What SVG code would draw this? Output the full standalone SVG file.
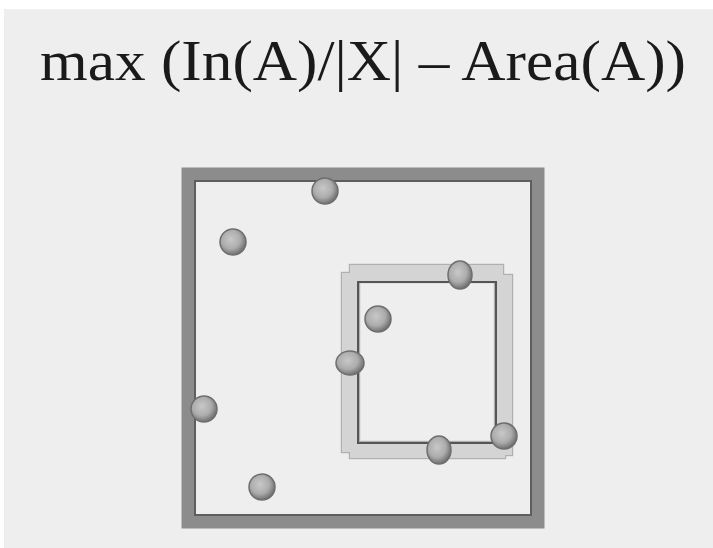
<svg xmlns="http://www.w3.org/2000/svg" width="713" height="548" viewBox="0 0 713 548">
<defs>
<radialGradient id="ballg" cx="0.42" cy="0.4" r="0.6">
<stop offset="0" stop-color="#c8c8c8"/>
<stop offset="0.6" stop-color="#acacac"/>
<stop offset="1" stop-color="#707070"/>
</radialGradient>
<style>
.title{font-family:"Liberation Serif","Times New Roman",serif;font-size:56px;fill:#1a1a1a}
.ball{fill:url(#ballg);stroke:#6e6e6e;stroke-width:1.5}
.outerband{fill:none;stroke:#8c8c8c;stroke-width:13}
.outeredge{fill:none;stroke:#5e5e5e;stroke-width:2}
.barline{fill:#b0b0b0;stroke:#b0b0b0;stroke-width:2.4}
.bar{fill:#d4d4d4}
.inneredge{fill:none;stroke:#555;stroke-width:2}
</style>
</defs>
<rect x="0" y="0" width="713" height="548" fill="#ffffff"/>
<rect x="4" y="9" width="709" height="539" fill="#eeeeee"/>
<text class="title" x="40" y="80" textLength="646" lengthAdjust="spacingAndGlyphs">max (In(A)/|X| – Area(A))</text>
<g id="outer-square">
<rect class="outerband" x="188" y="174" width="350" height="348"/>
<rect class="outeredge" x="195" y="181" width="336" height="334"/>
</g>
<g id="inner-square">
<rect class="barline" x="342" y="273" width="17" height="179"/>
<rect class="barline" x="495" y="275" width="17" height="180"/>
<rect class="barline" x="350" y="265" width="153" height="17"/>
<rect class="barline" x="350" y="442" width="155" height="16"/>
<rect class="bar" x="342" y="273" width="17" height="179"/>
<rect class="bar" x="495" y="275" width="17" height="180"/>
<rect class="bar" x="350" y="265" width="153" height="17"/>
<rect class="bar" x="350" y="442" width="155" height="16"/>
<rect class="inneredge" x="358" y="282" width="138" height="161"/>
</g>
<g id="points">
<g id="p1"><circle class="ball" cx="325" cy="191" r="13"/></g>
<g id="p2"><circle class="ball" cx="233" cy="242" r="13"/></g>
<g id="p3"><circle class="ball" cx="378" cy="319" r="13"/></g>
<g id="p4"><ellipse class="ball" cx="460" cy="275" rx="12" ry="14"/></g>
<g id="p5"><ellipse class="ball" cx="350" cy="363" rx="14" ry="12"/></g>
<g id="p6"><circle class="ball" cx="504" cy="436" r="13"/></g>
<g id="p7"><ellipse class="ball" cx="439" cy="450" rx="12" ry="14"/></g>
<g id="p8"><circle class="ball" cx="204" cy="409" r="13"/></g>
<g id="p9"><circle class="ball" cx="262" cy="487" r="13"/></g>
</g>
</svg>
